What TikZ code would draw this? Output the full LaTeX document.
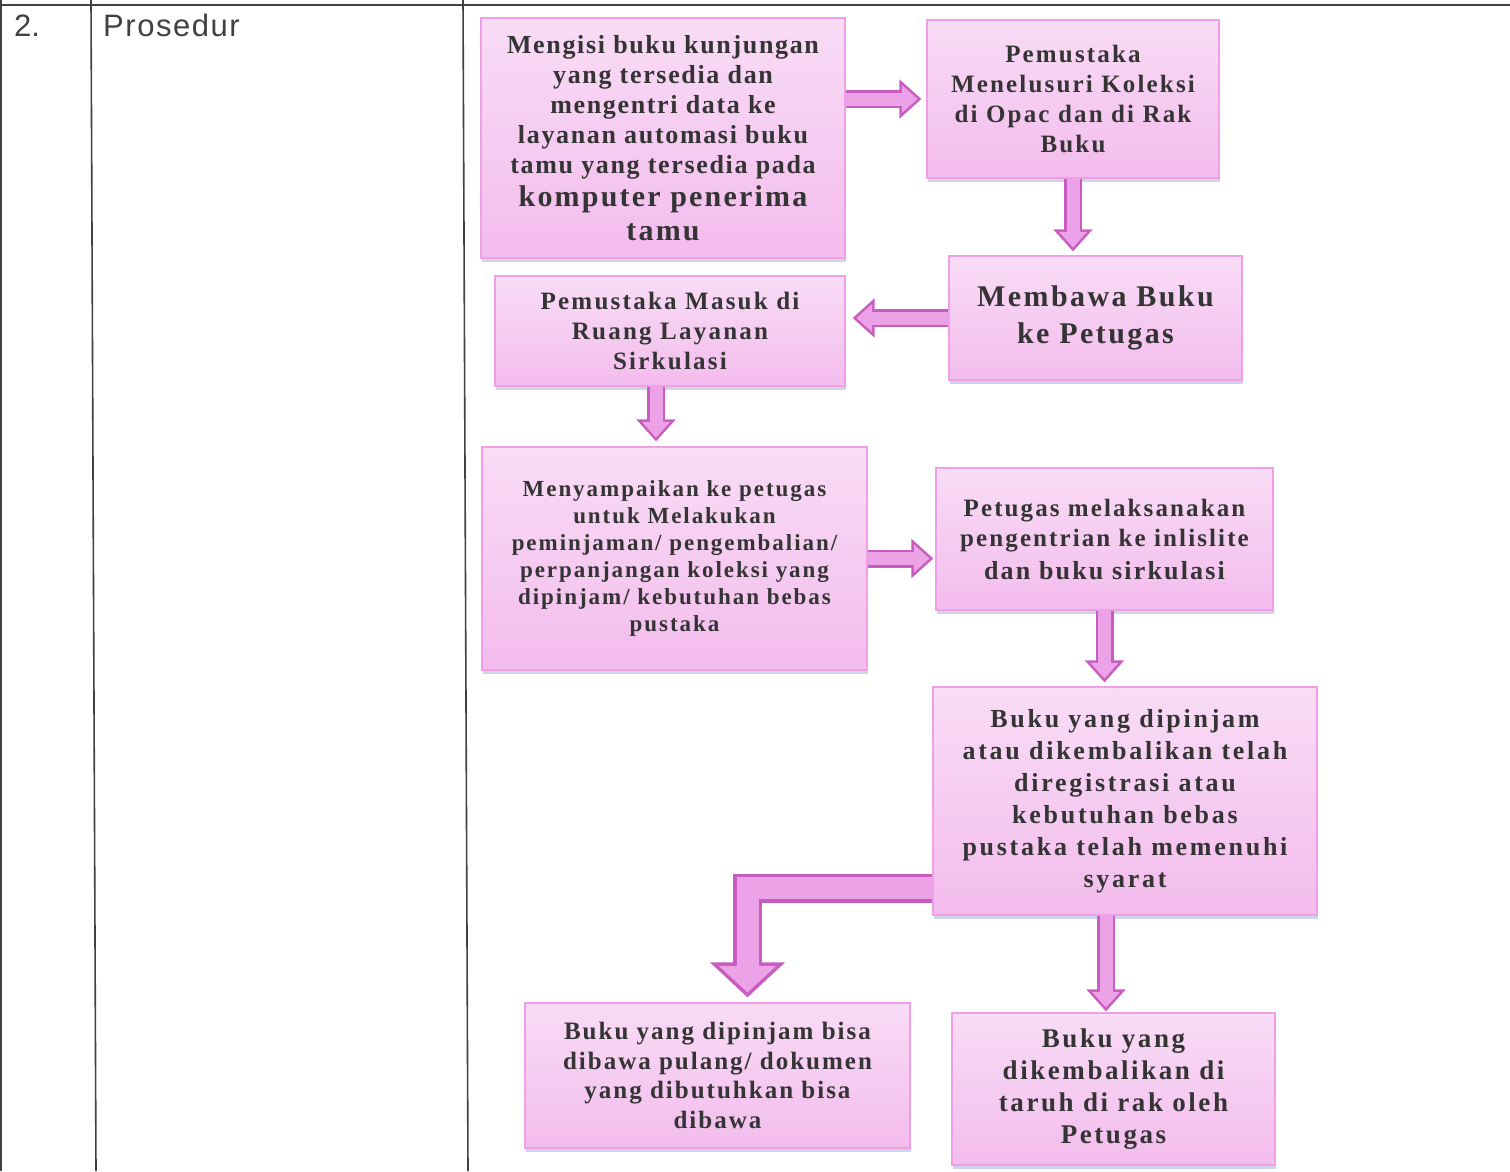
\documentclass[tikz,border=0pt]{standalone}
\usepackage{fontspec}
\setmainfont{Liberation Serif}
\newfontfamily\headfont{Liberation Sans}
\usetikzlibrary{positioning,arrows.meta,shadows}

\definecolor{boxtop}{RGB}{249,220,246}
\definecolor{boxbottom}{RGB}{243,188,237}
\definecolor{boxedge}{RGB}{240,158,230}
\definecolor{arrowfill}{RGB}{236,162,230}
\definecolor{arrowedge}{RGB}{200,92,192}
\definecolor{ink}{RGB}{52,52,52}
\definecolor{shadowcol}{RGB}{165,180,218}
\definecolor{rulecol}{RGB}{65,65,65}

\newcommand{\boxtext}[3]{\bfseries\fontsize{#1}{#2}\selectfont\addfontfeature{LetterSpace=#3}}

\tikzset{
  flowbox/.style={draw=boxedge, line width=1.2pt, top color=boxtop,
    bottom color=boxbottom, text=ink, align=center, inner sep=0pt,
    drop shadow={shadow xshift=1pt, shadow yshift=-4pt, fill=shadowcol, opacity=0.55}},
  flowarrow/.style={draw=arrowfill, line width=13pt,
    -{Triangle[width=27pt,length=15.7pt]}, shorten >=#1+3.8pt,
    preaction={draw=arrowedge, line width=18pt,
      -{Triangle[width=38pt,length=22pt]}, shorten >=#1}},
  flowarrow/.default=0pt,
  bigarrow/.style={draw=arrowfill, line width=22pt, line join=miter,
    -{Triangle[width=55.6pt,length=26.6pt]}, shorten >=#1+4.85pt,
    preaction={draw=arrowedge, line width=29pt, line join=miter,
      -{Triangle[width=73pt,length=35pt]}, shorten >=#1}},
  bigarrow/.default=0pt,
  rule/.style={draw=rulecol, line width=1.6pt}
}

\begin{document}
\begin{tikzpicture}[x=1pt,y=-1pt]
  \useasboundingbox[fill=white] (0,0) rectangle (1510,1171);
  % table rules
  \draw[rule] (1,0) -- (1,1171);
  \draw[rule] (91,0) -- (96,1171);
  \draw[rule] (463,0) -- (468,1171);
  \draw[rule] (0,5) -- (1510,5);
  % row labels
  \node[anchor=base west, text=rulecol, inner sep=0pt,
        font=\headfont\fontsize{31}{33}\selectfont] (num) at (14,36) {2.};
  \node[anchor=base west, text=rulecol, inner sep=0pt,
        font=\headfont\fontsize{31}{33}\selectfont\addfontfeature{LetterSpace=5}]
        (label) at (103,36) {Prosedur};
  % boxes
  \node[flowbox, minimum width=364pt, minimum height=240pt,
        font=\boxtext{26}{30}{6.4}] (isi) at (663,138)
        {Mengisi buku kunjungan\\ yang tersedia dan\\ mengentri data ke\\
         layanan automasi buku\\ tamu yang tersedia pada\\[3pt]
         {\boxtext{30}{35}{7.3}komputer penerima}\\[4pt]
         {\boxtext{30}{35}{7.3}tamu}};
  \node[flowbox, minimum width=292pt, minimum height=158pt,
        font=\boxtext{25}{30}{8.7}] (telusur) at (1073,99)
        {Pemustaka\\ Menelusuri Koleksi\\ di Opac dan di Rak\\ Buku};
  \node[flowbox, minimum width=293pt, minimum height=124pt,
        font=\boxtext{30}{37}{8}] (bawa) at (1095.5,318)
        {Membawa Buku\\ ke Petugas};
  \node[flowbox, minimum width=350pt, minimum height=110pt,
        font=\boxtext{25}{30}{9}] (masuk) at (670,331)
        {Pemustaka Masuk di\\ Ruang Layanan\\ Sirkulasi};
  \node[flowbox, minimum width=385pt, minimum height=223pt,
        font=\boxtext{23}{27}{8.5}] (sampai) at (674.5,558.5)
        {Menyampaikan ke petugas\\ untuk Melakukan\\ peminjaman/ pengembalian/\\
         perpanjangan koleksi yang\\ dipinjam/ kebutuhan bebas\\ pustaka};
  \node[flowbox, minimum width=337pt, minimum height=142pt,
        font=\boxtext{25}{30}{8.4}] (entri) at (1104.5,539)
        {Petugas melaksanakan\\ pengentrian ke inlislite\\[3pt]
         {\boxtext{26}{30}{8.4}dan buku sirkulasi}};
  \node[flowbox, minimum width=384pt, minimum height=228pt,
        font=\boxtext{26}{32}{10.5}] (regis) at (1125,801)
        {Buku yang dipinjam\\ atau dikembalikan telah\\ diregistrasi atau\\
         kebutuhan bebas\\ pustaka telah memenuhi\\ syarat};
  \node[flowbox, minimum width=385pt, minimum height=145pt,
        font=\boxtext{25}{29.5}{8}] (pulang) at (717.5,1075.5)
        {Buku yang dipinjam bisa\\ dibawa pulang/ dokumen\\ yang dibutuhkan bisa\\ dibawa};
  \node[flowbox, minimum width=323pt, minimum height=152pt,
        font=\boxtext{27}{32}{9.5}] (rak) at (1113.5,1089)
        {Buku yang\\ dikembalikan di\\ taruh di rak oleh\\ Petugas};
  % arrows
  \coordinate (masuk down) at ([xshift=-14pt]masuk.south);
  \coordinate (regis down) at ([xshift=-19pt]regis.south);
  \coordinate (regis left) at ([yshift=-87pt]regis.west);
  \coordinate (pulang top) at ([xshift=30pt]pulang.north);
  \draw[flowarrow=5pt] (isi.east |- telusur.west) -- (telusur.west);
  \draw[flowarrow=4pt] (telusur.south) -- (bawa.north -| telusur.south);
  \draw[flowarrow=7pt] (bawa.west) -- (masuk.east |- bawa.west);
  \draw[flowarrow=5pt] (masuk down) -- (masuk down |- sampai.north);
  \draw[flowarrow=2pt] (sampai.east) -- (entri.west |- sampai.east);
  \draw[flowarrow=4pt] (entri.south) -- (regis.north -| entri.south);
  \draw[bigarrow=5pt] (regis left) -| (pulang top);
  \draw[flowarrow=1pt] (regis down) -- (regis down |- rak.north);
\end{tikzpicture}
\end{document}
